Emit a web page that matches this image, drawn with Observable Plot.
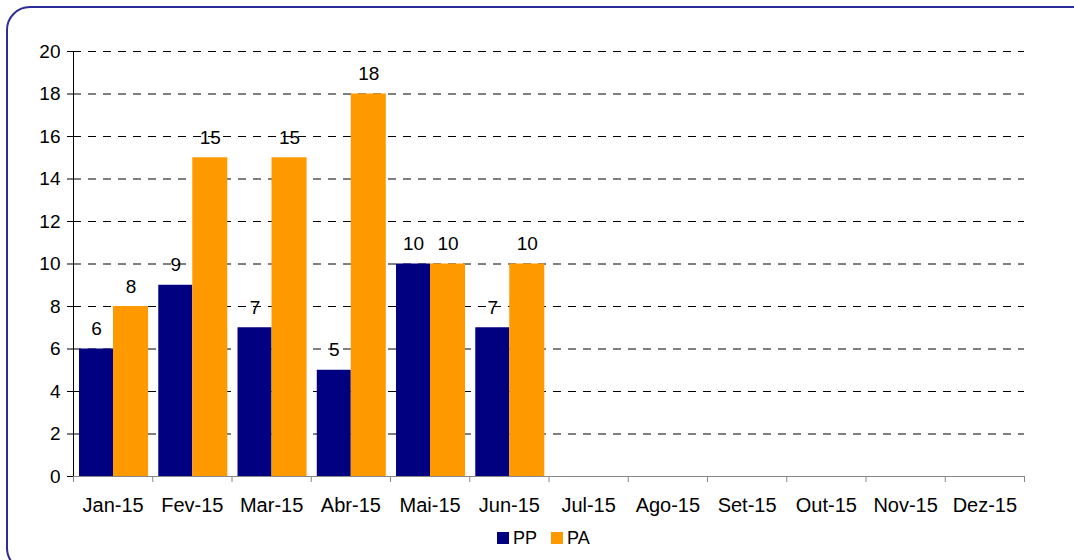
<!DOCTYPE html>
<html>
<head>
<meta charset="utf-8">
<script src="https://cdn.jsdelivr.net/npm/d3@7"></script>
<script src="https://cdn.jsdelivr.net/npm/@observablehq/plot@0.6"></script>
<style>
  html, body { margin: 0; padding: 0; background: #fff; overflow: hidden; }
  #wrap { position: relative; width: 1074px; height: 560px; overflow: hidden; font-family: "Liberation Sans", Arial, sans-serif; }
  #border { position: absolute; left: 6px; top: 6px; width: 1090px; height: 566px; border: 2px solid #2b2b99; border-radius: 24px; box-sizing: border-box; pointer-events: none; }
  #chart { position: absolute; left: 0; top: 0; }
  #legend { position: absolute; top: 528px; left: 0; width: 1074px; height: 20px; }
  .item { position: absolute; top: 0; font-size: 18px; line-height: 20px; color: #000; }
  .sw { position: absolute; top: 4px; width: 12px; height: 12px; }
</style>
</head>
<body>
<div id="wrap">
  <div id="chart"></div>
  <div id="legend"></div>
  <div id="border"></div>
</div>
<script>
const months = ["Jan-15","Fev-15","Mar-15","Abr-15","Mai-15","Jun-15","Jul-15","Ago-15","Set-15","Out-15","Nov-15","Dez-15"];
const seriesNames = ["PP","PA"];
const seriesColors = ["#000080","#FF9900"];
const ppValues = [6, 9, 7, 5, 10, 7];
const paValues = [8, 15, 15, 18, 10, 10];
const yTicks = [0, 2, 4, 6, 8, 10, 12, 14, 16, 18, 20];

const data = [];
ppValues.forEach((v, i) => data.push({i, month: months[i], series: "PP", value: v}));
paValues.forEach((v, i) => data.push({i, month: months[i], series: "PA", value: v}));

const start = {PP: 0.076, PA: 0.505};
const end = {PP: 0.505, PA: 0.947};

const chart = Plot.plot({
  width: 1074,
  height: 520,
  marginLeft: 73,
  marginRight: 50,
  marginTop: 51,
  marginBottom: 44,
  style: {fontFamily: "'Liberation Sans', Arial, sans-serif", fontSize: "19px", color: "#000", background: "transparent"},
  x: {type: "linear", domain: [0, months.length], axis: null},
  y: {domain: [0, 20], axis: null},
  color: {domain: seriesNames, range: seriesColors},
  marks: [
    Plot.gridY(yTicks.filter(t => t > 0), {stroke: "#000", strokeOpacity: 1, strokeDasharray: "8,7"}),
    Plot.rectY(data, {
      x1: d => d.i + start[d.series],
      x2: d => d.i + end[d.series],
      y1: 0,
      y2: "value",
      fill: "series"
    }),
    Plot.text(data, {
      x: d => d.i + (start[d.series] + end[d.series]) / 2,
      y: "value",
      text: d => String(d.value),
      dy: -20,
      lineAnchor: "middle",
      fontSize: 19,
      fill: "#000"
    }),
    Plot.axisY({ticks: yTicks, tickSize: 6, tickPadding: 7, fontSize: 19, label: null, stroke: "#000"}),
    Plot.ruleX([0], {stroke: "#000"}),
    Plot.ruleY([0], {stroke: "#888"}),
    Plot.axisX({ticks: d3.range(months.length + 1), tickSize: 6, tickFormat: () => "", stroke: "#888", label: null}),
    Plot.axisX({ticks: months.map((m, i) => i + 0.5), tickSize: 0, tickPadding: 21, tickFormat: v => months[Math.floor(v)], fontSize: 20, label: null})
  ]
});
document.getElementById("chart").appendChild(chart);

const legend = document.getElementById("legend");
const legendX = [497, 551];
seriesNames.forEach((name, k) => {
  const sw = document.createElement("div");
  sw.className = "sw";
  sw.style.left = legendX[k] + "px";
  sw.style.background = seriesColors[k];
  legend.appendChild(sw);
  const t = document.createElement("div");
  t.className = "item";
  t.style.left = (legendX[k] + 16) + "px";
  t.textContent = name;
  legend.appendChild(t);
});
</script>
</body>
</html>
